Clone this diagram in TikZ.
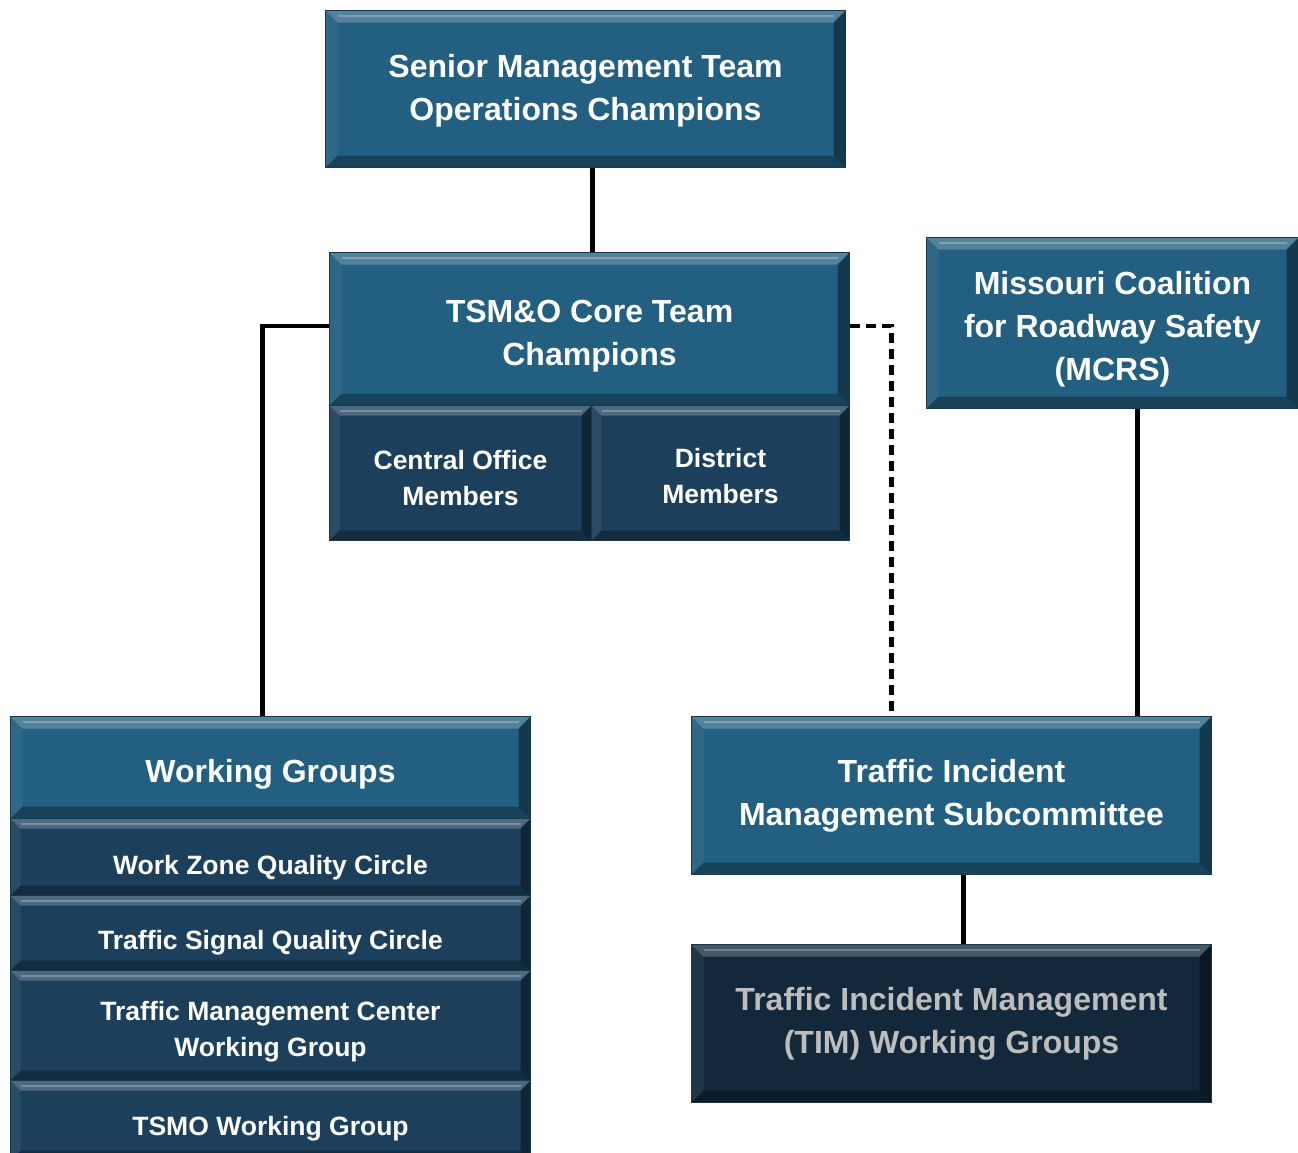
\documentclass[tikz,border=0pt]{standalone}
\usepackage{fontspec}
\setmainfont{Liberation Sans}
\usetikzlibrary{positioning}
\definecolor{teamblue}{HTML}{235F80}
\definecolor{memberblue}{HTML}{1C405C}
\definecolor{timnavy}{HTML}{13293B}
\definecolor{timgray}{HTML}{BDBDBD}
\begin{document}
\begin{tikzpicture}[x=1pt,y=-1pt,%
    bevel/.style={path picture={
      \path (path picture bounding box.north west) coordinate (bnw)
            (path picture bounding box.north east) coordinate (bne)
            (path picture bounding box.south west) coordinate (bsw)
            (path picture bounding box.south east) coordinate (bse);
      \fill[white,opacity=.22] (bnw) -- (bne) -- ([xshift=-#1,yshift=-#1]bne) -- ([xshift=#1,yshift=-#1]bnw) -- cycle;
      \fill[white,opacity=.06] (bnw) -- ([xshift=#1,yshift=-#1]bnw) -- ([xshift=#1,yshift=#1]bsw) -- (bsw) -- cycle;
      \fill[black,opacity=.40] (bne) -- (bse) -- ([xshift=-#1,yshift=#1]bse) -- ([xshift=-#1,yshift=-#1]bne) -- cycle;
      \fill[black,opacity=.30] (bsw) -- ([xshift=#1,yshift=#1]bsw) -- ([xshift=-#1,yshift=#1]bse) -- (bse) -- cycle;
      \draw[white,opacity=.25,line width=2pt] ([xshift=#1,yshift=-5pt]bnw) -- ([xshift=-#1,yshift=-5pt]bne);
    }},
    box/.style={draw=teamblue!60!black,line width=1pt,fill=teamblue,text=white,
      font=\fontsize{32}{43}\selectfont\bfseries,align=center,inner sep=0pt,
      anchor=north west,bevel=12pt},
    member/.style={box,fill=memberblue,font=\fontsize{26.5}{36}\selectfont\bfseries,bevel=10pt},
    lowtext/.style={text height=#1,text depth=6pt},
    shiftdown/.style={text height=#1,text depth=0pt},
    link/.style={line width=4.5pt}
  ]
    \clip (0,0) rectangle (1298,1152);
    \useasboundingbox (0,0) rectangle (1298,1152);

    % top of the chart
    \node at (325,10) [box,minimum width=520pt,minimum height=157pt,text depth=3pt] (senior)
      {Senior Management Team\\Operations Champions};

    \node at (329,252) [box,minimum width=520pt,minimum height=153pt,shiftdown=72pt] (core)
      {TSM\&O Core Team\\Champions};
    \node at (329,405) [member,minimum width=262pt,minimum height=135pt,shiftdown=65pt] (central)
      {Central Office\\Members};
    \node at (591,405) [member,minimum width=258pt,minimum height=135pt,shiftdown=61pt] (district)
      {District\\Members};

    \node at (926,237) [box,minimum width=372pt,minimum height=171pt,shiftdown=115pt] (mcrs)
      {Missouri Coalition\\for Roadway Safety\\(MCRS)};

    % working groups
    \node at (10,716) [box,minimum width=520pt,minimum height=102pt,shiftdown=29pt] (wg)
      {Working Groups};
    \node at (10,818) [member,minimum width=520pt,minimum height=77pt,lowtext=40pt] (wzone)
      {Work Zone Quality Circle};
    \node at (10,895) [member,minimum width=520pt,minimum height=75pt,lowtext=38pt] (tsignal)
      {Traffic Signal Quality Circle};
    \node at (10,970) [member,minimum width=520pt,minimum height=110pt,shiftdown=61pt] (tmc)
      {Traffic Management Center\\Working Group};
    \node at (10,1080) [member,minimum width=520pt,minimum height=80pt,lowtext=36pt] (tsmo)
      {TSMO Working Group};

    % traffic incident management
    \node at (691,716) [box,minimum width=520pt,minimum height=158pt] (tims)
      {Traffic Incident\\Management Subcommittee};
    \node at (691,944) [box,fill=timnavy,text=timgray,minimum width=520pt,minimum height=158pt] (timw)
      {Traffic Incident Management\\(TIM) Working Groups};

    % connectors
    \draw[link] ([xshift=7pt]senior.south) -- ([xshift=3pt]core.north);
    \draw[link] ([yshift=3pt]core.west) -| ([xshift=-8pt]wg.north);
    \draw[link,dash pattern=on 10pt off 6pt] ([yshift=3pt]core.east) -| ([xshift=-60pt]tims.north);
    \draw[link] ([xshift=25pt]mcrs.south) -- ([xshift=186pt]tims.north);
    \draw[link] ([xshift=12pt]tims.south) -- ([xshift=12pt]timw.north);
\end{tikzpicture}
\end{document}
